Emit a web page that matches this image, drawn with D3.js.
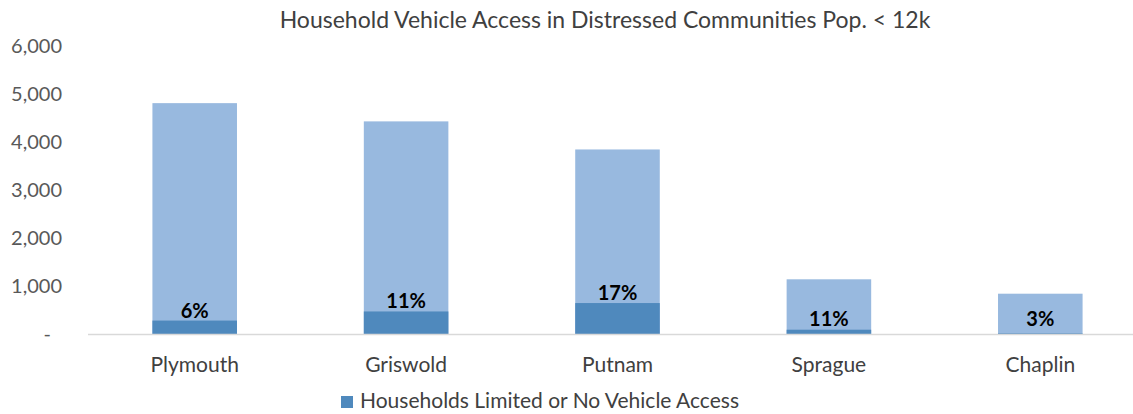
<!DOCTYPE html>
<html>
<head>
<meta charset="utf-8">
<script src="https://cdn.jsdelivr.net/npm/d3@7"></script>
<style>
  body { margin: 0; background: #fff; }
  svg { font-family: Lato, "Open Sans", sans-serif; }
</style>
</head>
<body>
<svg id="chart"></svg>
<script>
// values
const towns = ["Plymouth", "Griswold", "Putnam", "Sprague", "Chaplin"];
const totalHouseholds = [4820, 4440, 3855, 1150, 850];
const limitedAccess = [290, 480, 655, 100, 25];
const pctLabels = ["6%", "11%", "17%", "11%", "3%"];
const yTicks = [0, 1000, 2000, 3000, 4000, 5000, 6000];

const width = 1133, height = 414;
const svg = d3.select("#chart").attr("width", width).attr("height", height);

const x = d3.scaleBand()
  .domain(towns)
  .range([89, 1146])
  .paddingInner(0.6)
  .paddingOuter(0.3);

const y = d3.scaleLinear()
  .domain([0, 6000])
  .range([334.5, 46.5]);

// title
svg.append("text")
  .attr("x", 605)
  .attr("y", 28)
  .attr("text-anchor", "middle")
  .style("font-size", "23px")
  .style("fill", "#404040")
  .text("Household Vehicle Access in Distressed Communities Pop. < 12k");

// y axis labels
const yAxis = d3.axisLeft(y)
  .tickValues(yTicks)
  .tickSize(0)
  .tickPadding(0)
  .tickFormat(d => d === 0 ? "-" : d3.format(",")(d));

svg.append("g")
  .attr("transform", "translate(62,0)")
  .call(yAxis)
  .call(g => g.select(".domain").remove())
  .call(g => g.selectAll("text")
    .style("font-size", "20px")
    .style("font-family", "Lato, sans-serif")
    .attr("fill", "#595959")
    .attr("dx", d => d === 0 ? -11 : 0));

// total households (light)
svg.append("g").selectAll("rect")
  .data(towns)
  .join("rect")
    .attr("x", d => x(d))
    .attr("width", x.bandwidth())
    .attr("y", (d, i) => y(totalHouseholds[i]))
    .attr("height", (d, i) => y(0) - y(totalHouseholds[i]))
    .attr("fill", "#98B9DF");

// limited / no vehicle access (dark)
svg.append("g").selectAll("rect")
  .data(towns)
  .join("rect")
    .attr("x", d => x(d))
    .attr("width", x.bandwidth())
    .attr("y", (d, i) => y(limitedAccess[i]))
    .attr("height", (d, i) => y(0) - y(limitedAccess[i]))
    .attr("fill", "#4F89BD");

// baseline
svg.append("line")
  .attr("x1", 88).attr("x2", width)
  .attr("y1", y(0)).attr("y2", y(0))
  .attr("stroke", "#d9d9d9")
  .attr("stroke-width", 1.5);

// percent labels
svg.append("g").selectAll("text")
  .data(towns)
  .join("text")
    .attr("x", d => x(d) + x.bandwidth() / 2)
    .attr("y", (d, i) => Math.min(y(limitedAccess[i]) - 3, 326))
    .attr("text-anchor", "middle")
    .style("font-size", "20px")
    .style("font-weight", "bold")
    .style("fill", "#000")
    .text((d, i) => pctLabels[i]);

// category axis
const xAxis = d3.axisBottom(x).tickSize(0).tickPadding(0);
svg.append("g")
  .attr("transform", "translate(0,357)")
  .call(xAxis)
  .call(g => g.select(".domain").remove())
  .call(g => g.selectAll("text")
    .style("font-size", "21px")
    .style("font-family", "Lato, sans-serif")
    .attr("fill", "#404040"));

// legend
const legend = svg.append("g").attr("transform", "translate(341,396)");
legend.append("rect")
  .attr("width", 12).attr("height", 12)
  .attr("fill", "#4F89BD");
legend.append("text")
  .attr("x", 19)
  .attr("y", 12)
  .style("font-size", "21px")
  .style("fill", "#404040")
  .text("Households Limited or No Vehicle Access");
</script>
</body>
</html>
